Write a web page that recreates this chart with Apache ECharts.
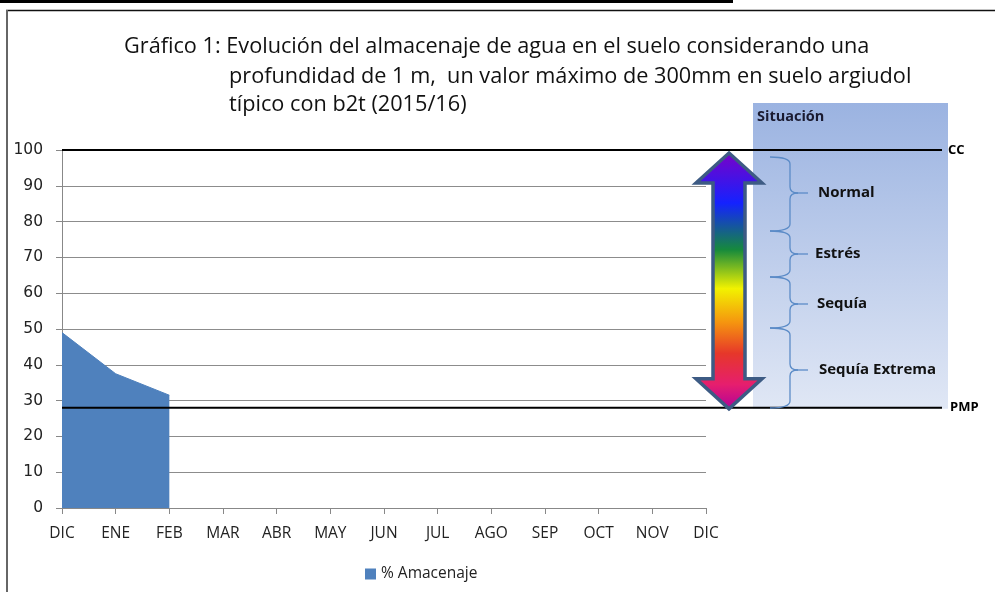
<!DOCTYPE html>
<html>
<head>
<meta charset="utf-8">
<script src="https://cdn.jsdelivr.net/npm/echarts@6/dist/echarts.min.js"></script>
<style>
html,body{margin:0;padding:0;background:#fff;}
#main{width:995px;height:592px;}
</style>
</head>
<body>
<div id="main"></div>
<script>
// ---- data ----
const categories = ['DIC','ENE','FEB','MAR','ABR','MAY','JUN','JUL','AGO','SEP','OCT','NOV','DIC'];
const almacenaje = [49, 37.5, 31.5, null, null, null, null, null, null, null, null, null, null];
const seriesName = '% Amacenaje';
const ccValue = 100;
const pmpValue = 28;
const situaciones = ['Normal', 'Estrés', 'Sequía', 'Sequía Extrema'];
const titleLine1 = 'Gráfico 1: Evolución del almacenaje de agua en el suelo considerando una';
const titleLine2 = 'profundidad de 1 m,  un valor máximo de 300mm en suelo argiudol\ntípico con b2t (2015/16)';

const chart = echarts.init(document.getElementById('main'));
const FONT = '"Open Sans", "Liberation Sans", sans-serif';
const YFONT = '"DejaVu Sans", Verdana, sans-serif';

const option = {
  animation: false,
  backgroundColor: '#fff',
  title: [
    { text: titleLine1, left: 119, top: 31,
      textStyle: { fontFamily: FONT, fontSize: 21.7, fontWeight: 'normal', color: '#111' } },
    { text: titleLine2, left: 224, top: 58,
      textStyle: { fontFamily: FONT, fontSize: 21.7, fontWeight: 'normal', color: '#111', lineHeight: 28 } }
  ],
  legend: {
    data: [seriesName], left: 360, top: 561, icon: 'rect', itemWidth: 11, itemHeight: 11, itemGap: 5,
    textStyle: { fontFamily: FONT, fontSize: 15.5, color: '#222' }
  },
  grid: { left: 62, right: 289, top: 150, bottom: 84 },
  xAxis: {
    type: 'category', data: categories, boundaryGap: false,
    axisLine: { lineStyle: { color: '#888', width: 1 } },
    axisTick: { show: true, length: 6, lineStyle: { color: '#888' }, alignWithLabel: true },
    axisLabel: { fontFamily: FONT, fontSize: 15.5, color: '#222', margin: 18, interval: 0 },
    splitLine: { show: false }
  },
  yAxis: {
    type: 'value', min: 0, max: 100, interval: 10,
    axisLine: { show: true, lineStyle: { color: '#888', width: 1 } },
    axisTick: { show: true, length: 6, lineStyle: { color: '#888' } },
    axisLabel: { fontFamily: YFONT, fontSize: 15.5, color: '#222', margin: 19 },
    splitLine: { show: true, lineStyle: { color: '#8c8c8c', width: 1 } }
  },
  series: [{
    name: seriesName, type: 'line', data: almacenaje,
    showSymbol: false, symbol: 'none',
    lineStyle: { color: '#4f81bd', width: 1 },
    itemStyle: { color: '#4f81bd' },
    areaStyle: { color: '#4f81bd', opacity: 1 }
  }]
};
chart.setOption(option);

function braceParts(x0, x, y1, y2, ym, tip) {
  const st = { stroke: '#5b8bc7', lineWidth: 1.3, fill: null };
  const mk = function (type, shape) { return { type: type, shape: shape, style: st, silent: true, z: 11 }; };
  return [
    mk('bezierCurve', { x1: x0, y1: y1, cpx1: x, cpy1: y1, x2: x, y2: y1 + 7 }),
    mk('line', { x1: x, y1: y1 + 7, x2: x, y2: ym - 6 }),
    mk('bezierCurve', { x1: x, y1: ym - 6, cpx1: x, cpy1: ym, x2: x + 8, y2: ym }),
    mk('line', { x1: x + 8, y1: ym, x2: tip, y2: ym }),
    mk('bezierCurve', { x1: x + 8, y1: ym, cpx1: x, cpy1: ym, x2: x, y2: ym + 6 }),
    mk('line', { x1: x, y1: ym + 6, x2: x, y2: y2 - 7 }),
    mk('bezierCurve', { x1: x, y1: y2 - 7, cpx1: x, cpy1: y2, x2: x0, y2: y2 })
  ];
}

function decorate() {
  const yCC = chart.convertToPixel({ yAxisIndex: 0 }, ccValue);
  const yPMP = chart.convertToPixel({ yAxisIndex: 0 }, pmpValue);
  const xL = chart.convertToPixel({ xAxisIndex: 0 }, 0);
  const lineEnd = 942;
  const ax = 729, top = yCC + 3, bot = yPMP + 1;
  const headH = 30, headW = 33, shaftW = 16;
  const arrowPts = [
    [ax, top], [ax + headW, top + headH], [ax + shaftW, top + headH], [ax + shaftW, bot - headH],
    [ax + headW, bot - headH], [ax, bot], [ax - headW, bot - headH], [ax - shaftW, bot - headH],
    [ax - shaftW, top + headH], [ax - headW, top + headH]
  ];
  const braces = [[157, 231, 193], [231, 277, 254], [277, 328, 304], [328, 408, 370]];
  const labelX = [818, 815, 817, 819];
  let elements = [
    { type: 'rect', shape: { x: 0, y: 0, width: 733, height: 3 }, style: { fill: '#000' }, silent: true },
    { type: 'line', shape: { x1: 6, y1: 10.5, x2: 995, y2: 10.5 }, style: { stroke: '#111', lineWidth: 1.5 }, silent: true },
    { type: 'line', shape: { x1: 7, y1: 10, x2: 7, y2: 592 }, style: { stroke: '#666', lineWidth: 2 }, silent: true },
    { type: 'rect', shape: { x: 753, y: 103, width: 195, height: yPMP - 103 + 1 },
      style: { fill: new echarts.graphic.LinearGradient(0, 0, 0, 1, [
        { offset: 0, color: '#9bb3e1' }, { offset: 1, color: '#e0e7f5' }]) }, silent: true, z: 0 },
    { type: 'text', x: 757, y: 117, style: { text: 'Situación', fontFamily: FONT, fontSize: 14.5, fontWeight: 'bold',
      fill: '#1a1a30', verticalAlign: 'middle' }, silent: true },
    { type: 'line', shape: { x1: xL, y1: yCC, x2: lineEnd, y2: yCC }, style: { stroke: '#000', lineWidth: 2 }, silent: true, z: 10 },
    { type: 'line', shape: { x1: xL, y1: yPMP, x2: lineEnd, y2: yPMP }, style: { stroke: '#000', lineWidth: 2 }, silent: true, z: 10 },
    { type: 'text', x: 948, y: yCC, style: { text: 'CC', fontFamily: FONT, fontSize: 13, fontWeight: 'bold', fill: '#000', verticalAlign: 'middle' }, silent: true },
    { type: 'text', x: 950, y: yPMP, style: { text: 'PMP', fontFamily: FONT, fontSize: 13, fontWeight: 'bold', fill: '#000', verticalAlign: 'middle' }, silent: true },
    { type: 'polygon', shape: { points: arrowPts }, z: 11,
      style: { lineWidth: 3.5, stroke: '#3d5b84', fill: new echarts.graphic.LinearGradient(0, 0, 0, 1, [
        { offset: 0, color: '#7d00c6' }, { offset: 0.2, color: '#1422ff' }, { offset: 0.38, color: '#168a3c' },
        { offset: 0.53, color: '#f2f200' }, { offset: 0.66, color: '#f5950f' }, { offset: 0.78, color: '#e6372a' },
        { offset: 0.9, color: '#e61e6e' }, { offset: 1, color: '#b0009c' }]) }, silent: true }
  ];
  braces.forEach(function (b, i) {
    elements = elements.concat(braceParts(770, 790, b[0], b[1], b[2], 808));
    elements.push({ type: 'text', x: labelX[i], y: b[2], style: { text: situaciones[i], fontFamily: FONT, fontSize: 15,
      fontWeight: 'bold', fill: '#111', verticalAlign: 'middle' }, silent: true, z: 11 });
  });
  chart.setOption({ graphic: { elements: elements } });
}
decorate();
</script>
</body>
</html>
